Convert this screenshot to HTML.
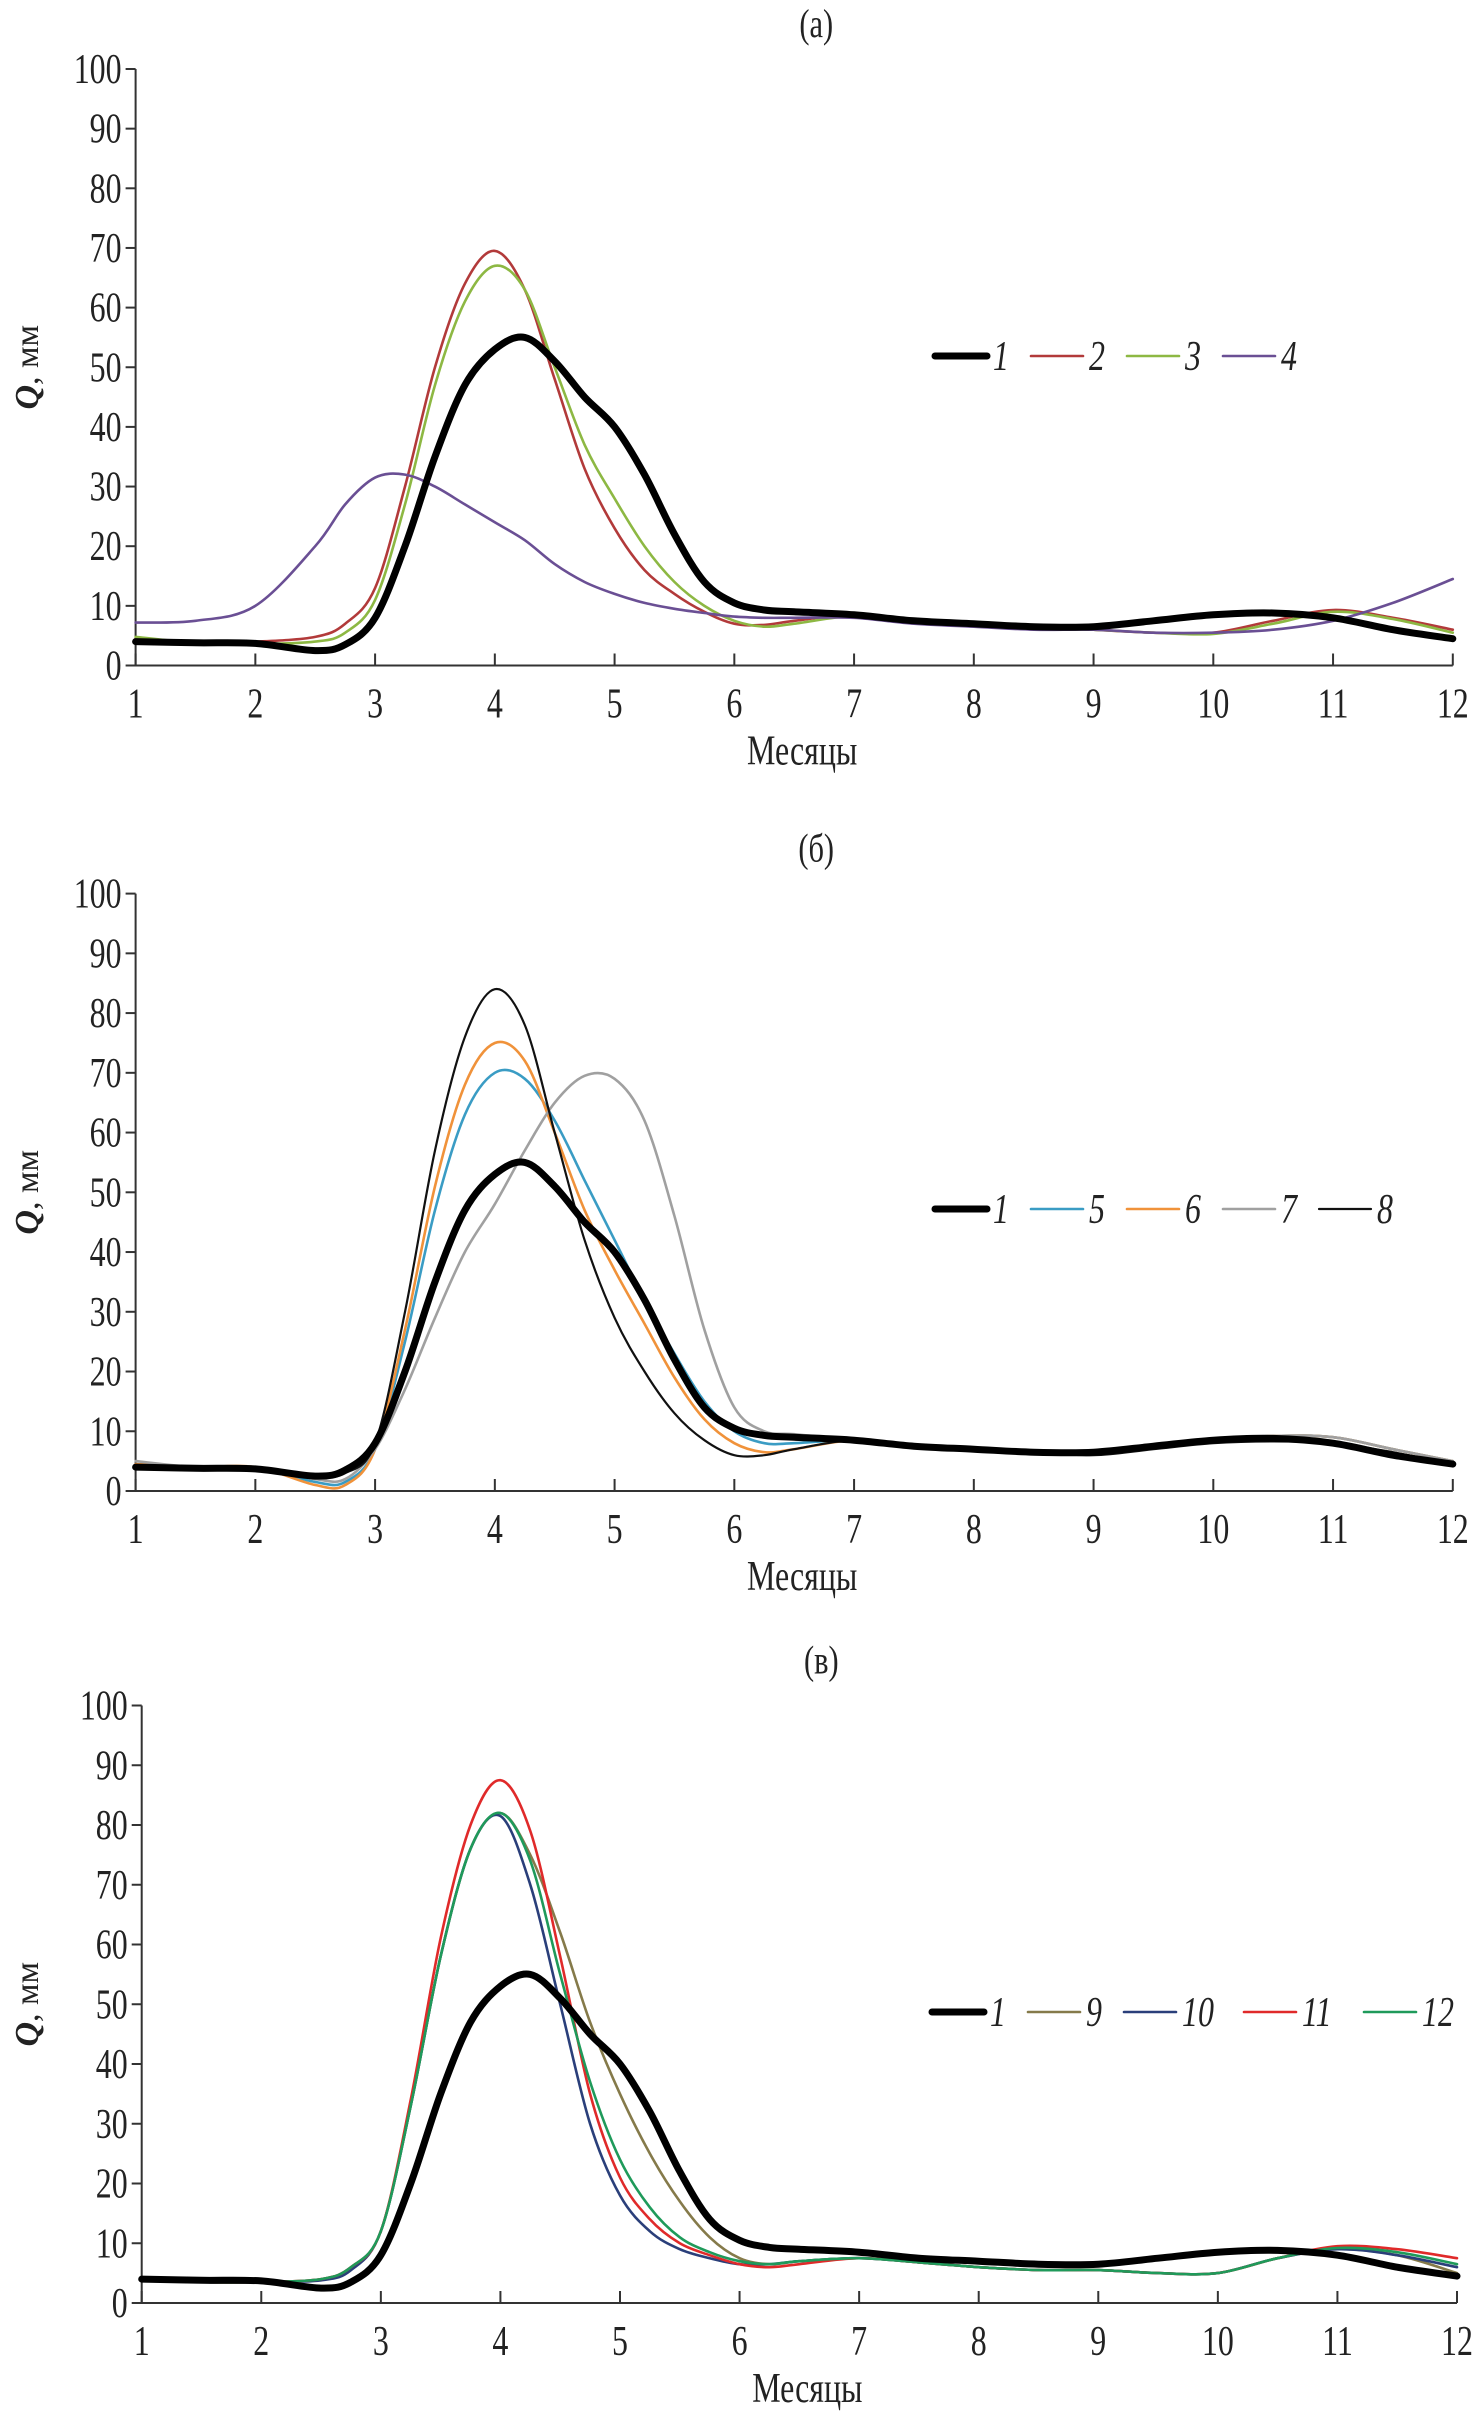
<!DOCTYPE html>
<html><head><meta charset="utf-8">
<style>
html,body{margin:0;padding:0;background:#fff;}
svg{display:block;}
text{font-family:"Liberation Serif",serif;fill:#222;}
</style></head>
<body>
<svg id="chart" width="1479" height="2418" viewBox="0 0 1479 2418" xmlns="http://www.w3.org/2000/svg"></svg>
<script>
const months = [1,1.5,2,2.5,2.75,3,3.25,3.5,3.75,4,4.25,4.5,4.75,5,5.25,5.5,5.75,6,6.25,6.5,7,7.5,8,8.5,9,9.5,10,10.5,11,11.5,12];
const xTicks = [1,2,3,4,5,6,7,8,9,10,11,12];
const yTicks = [0,10,20,30,40,50,60,70,80,90,100];
const s1  = [4,3.8,3.7,2.5,3.5,8,20,35,47,53,55,51,45,40,32,22,14,10.5,9.3,9,8.5,7.5,7,6.5,6.5,7.5,8.5,8.8,8,6,4.5];
const s2  = [4.5,4,4,4.8,7,13,30,50,64,69.5,63,48,33,23,16,12,9,7,6.8,7.5,8.5,7.5,7,6.5,6,5.5,5.5,7.5,9.3,8,6];
const s3  = [4.8,3.8,3.6,4,5.5,11,27,47,61,67,63,50,37,28,20,14,10,7.5,6.5,7,8.3,7.5,7,6.5,6,5.5,5.3,7,9,7.8,5.5];
const s4  = [7.2,7.5,10,20,27,31.5,32,30,27,24,21,17,14,12,10.5,9.5,8.8,8.2,8,8,8,7,6.5,6,6,5.5,5.5,6,7.5,10.5,14.5];
const s5  = [4.5,4,4,1.5,1.5,7,25,47,63,70,69,62,52,42,32,23,15,10,8,8,8.5,7.5,7,6.5,6.5,7.5,8.5,9.2,9,7,5];
const s6  = [4.5,4,4,1,1,7,27,51,68,75,72,60,47,37,28,19,12,8,6.5,7,8.5,7.5,7,6.5,6.5,7.5,8.5,9.2,9,7,5];
const s7  = [5,4,4,2,2,7,17,29,40,48,57,65,69.5,69,62,46,27,14,10,9.5,8.5,7.5,7,6.5,6.5,7.5,8.5,9.2,9,7,5];
const s8  = [4,3.8,3.8,2.5,3,8,30,57,76,84,78,60,42,29,20,13,8.5,6,6,7,8.5,7.5,7,6.5,6,7,8,8.3,8,6.5,4.5];
const s9  = [4,3.5,3.5,4,6,12,33,58,76,82,75,62,47,35,25,17,11,7.5,6.5,7,7.5,6.8,6,5.5,5.5,5,5,7.5,9,8,5];
const s10 = [4,3.5,3.5,3.8,5.5,12,33,58,76,81.5,70,50,30,18,12,9,7.5,6.5,6.5,7,7.5,6.8,6,5.5,5.5,5,5,7.5,9,8,6];
const s11 = [4,3.5,3.5,4,6,12,34,61,80,87.5,79,58,35,21,14,10,8,6.5,6,6.5,7.5,6.8,6,5.5,5.5,5,5,7.5,9.5,9,7.5];
const s12 = [4,3.5,3.5,4,6,12,33,58,76,82,74,55,37,24,16,11,8.5,7,6.5,7,7.5,6.8,6,5.5,5.5,5,5,7.5,9.2,8.5,6.5];

const svg = document.getElementById('chart');
const NS = 'http://www.w3.org/2000/svg';
function mk(tag, attrs, parent){const e=document.createElementNS(NS,tag);for(const k in attrs)e.setAttribute(k,attrs[k]);(parent||svg).appendChild(e);return e;}
function ctext(parent,x,y,size,anchor,str,italic){
  const t=mk('text',{x:0,y:0,'font-size':size,'text-anchor':anchor,transform:`translate(${x},${y}) scale(0.76,1)`},parent);
  if(italic)t.setAttribute('font-style','italic');
  t.textContent=str;
  return t;
}

const panels = [
  {title:'(а)', key:'a', x0:135.6, x1:1452.8, y0:665.5, y100:69, legendX:935, legendY:356,
   series:[{n:'1',d:s1,c:'#000',w:7},{n:'2',d:s2,c:'#b23a3a',w:2.6},{n:'3',d:s3,c:'#8db843',w:2.6},{n:'4',d:s4,c:'#6a4f94',w:2.6}]},
  {title:'(б)', key:'b', x0:135.6, x1:1452.8, y0:1491, y100:893.6, legendX:935, legendY:1209,
   series:[{n:'1',d:s1,c:'#000',w:7},{n:'5',d:s5,c:'#3a9cc4',w:2.6},{n:'6',d:s6,c:'#f0923a',w:2.6},{n:'7',d:s7,c:'#a0a0a0',w:2.6},{n:'8',d:s8,c:'#111',w:2.2}]},
  {title:'(в)', key:'c', x0:141.7, x1:1457, y0:2303, y100:1705.5, legendX:932, legendY:2012,
   series:[{n:'1',d:s1,c:'#000',w:7},{n:'9',d:s9,c:'#857a4a',w:2.6},{n:'10',d:s10,c:'#2a3f7a',w:2.6},{n:'11',d:s11,c:'#e02a2a',w:2.6},{n:'12',d:s12,c:'#1f9a5a',w:2.6}]}
];

function pathFrom(pts){
  let d='M'+pts[0][0].toFixed(1)+','+pts[0][1].toFixed(1);
  for(let i=0;i<pts.length-1;i++){
    const p0=pts[i-1]||pts[i],p1=pts[i],p2=pts[i+1],p3=pts[i+2]||p2;
    const c1=[p1[0]+(p2[0]-p0[0])/6,p1[1]+(p2[1]-p0[1])/6];
    const c2=[p2[0]-(p3[0]-p1[0])/6,p2[1]-(p3[1]-p1[1])/6];
    d+=' C'+c1[0].toFixed(1)+','+c1[1].toFixed(1)+' '+c2[0].toFixed(1)+','+c2[1].toFixed(1)+' '+p2[0].toFixed(1)+','+p2[1].toFixed(1);
  }
  return d;
}

panels.forEach(p=>{
  const X=v=>p.x0+(v-1)*(p.x1-p.x0)/11;
  const Y=v=>p.y0+(p.y100-p.y0)*v/100;
  const g=mk('g',{});
  
  
  const t=ctext(g,(p.x0+p.x1)/2+22,p.y100-32,40,'middle',p.title);
  
  
  const ax=mk('path',{d:`M${p.x0},${Y(100)} L${p.x0},${p.y0} L${p.x1},${p.y0}`,stroke:'#333','stroke-width':2,fill:'none'},g);
  
  
  yTicks.forEach(v=>{
    mk('line',{x1:p.x0-10,x2:p.x0,y1:Y(v),y2:Y(v),stroke:'#333','stroke-width':2},g);
    const tl=ctext(g,p.x0-14,Y(v)+14,42,'end',String(v));
    
    
  });
  xTicks.forEach(v=>{
    mk('line',{x1:X(v),x2:X(v),y1:p.y0-12,y2:p.y0,stroke:'#333','stroke-width':2},g);
    const tl=ctext(g,X(v),p.y0+52,42,'middle',String(v));
    
    
  });
  const xt=ctext(g,(p.x0+p.x1)/2+8,p.y0+99,42,'middle','Месяцы');
  
  
  const yc=(p.y0+p.y100)/2;
  const yt=mk('text',{x:0,y:0,'font-size':34,'text-anchor':'middle',transform:`translate(38,${yc}) rotate(-90)`},g);
  yt.innerHTML='<tspan font-style="italic" font-weight="bold">Q</tspan>, мм';
  
  
  const order=p.series.slice(1).concat([p.series[0]]);
  order.forEach(s=>{
    const pts=months.map((m,i)=>[X(m),Y(s.d[i])]);
    const pa=mk('path',{d:pathFrom(pts),stroke:s.c,'stroke-width':s.w,fill:'none','stroke-linejoin':'round','stroke-linecap':'round'},g);
    
    
  });
  let lx=p.legendX;
  p.series.forEach(s=>{
    const lg=mk('g',{},g);
    
    
    mk('line',{x1:lx,x2:lx+52,y1:p.legendY,y2:p.legendY,stroke:s.c,'stroke-width':s.w,'stroke-linecap':'round'},lg);
    ctext(lg,lx+58,p.legendY+14,42,'start',s.n,true);
    lx+= s.n.length>1 ? 120 : 96;
  });
});
</script>
</body></html>
